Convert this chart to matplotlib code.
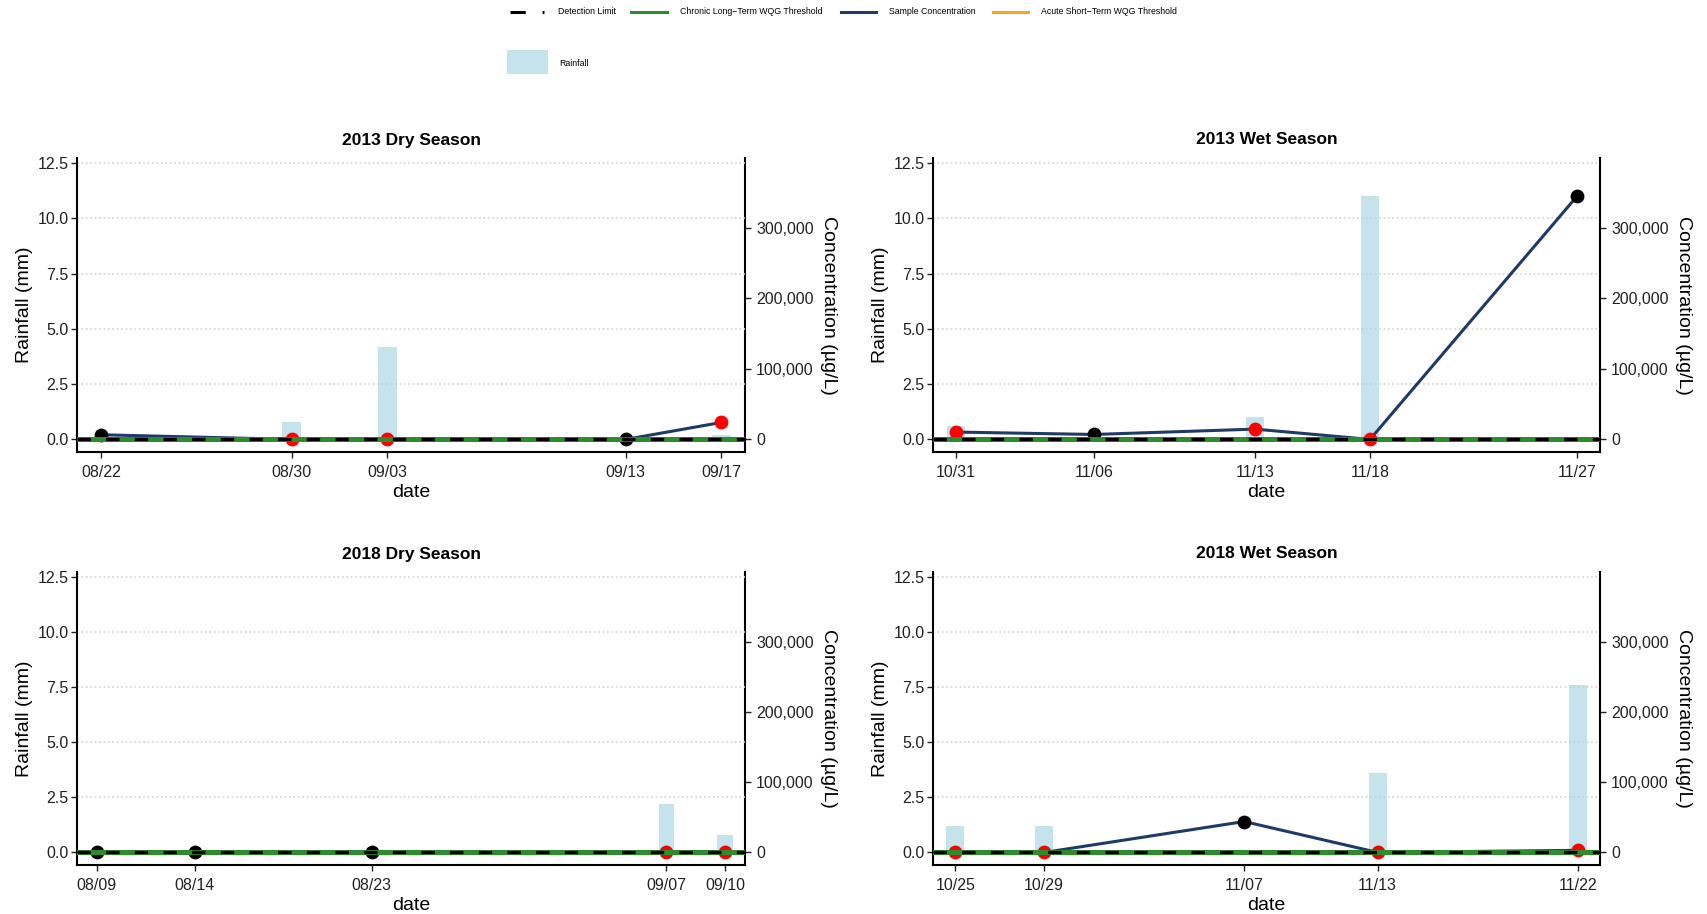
import numpy as np
import pandas as pd
import matplotlib.pyplot as plt
import matplotlib.dates as mdates
import matplotlib.ticker as mticker
from matplotlib.lines import Line2D
from matplotlib.patches import Rectangle

plt.rcParams['font.family'] = ['Liberation Sans', 'DejaVu Sans']

# sampling dates, rainfall (mm) and concentration (ug/L) per season
titles = ['2013 Dry Season', '2013 Wet Season', '2018 Dry Season', '2018 Wet Season']

dry13_dates = ['2013-08-22', '2013-08-30', '2013-09-03', '2013-09-13', '2013-09-17']
dry13_rain = [0.0, 0.8, 4.2, 0.0, 0.2]
dry13_conc = [6600, 0, 0, 0, 24000]
dry13_flag = [False, True, True, False, True]

wet13_dates = ['2013-10-31', '2013-11-06', '2013-11-13', '2013-11-18', '2013-11-27']
wet13_rain = [0.6, 0.0, 1.0, 11.0, 0.0]
wet13_conc = [10400, 7000, 14600, 0, 345000]
wet13_flag = [True, False, True, True, False]

dry18_dates = ['2018-08-09', '2018-08-14', '2018-08-23', '2018-09-07', '2018-09-10']
dry18_rain = [0.0, 0.0, 0.0, 2.2, 0.8]
dry18_conc = [0, 0, 0, 0, 0]
dry18_flag = [False, False, False, True, True]

wet18_dates = ['2018-10-25', '2018-10-29', '2018-11-07', '2018-11-13', '2018-11-22']
wet18_rain = [1.2, 1.2, 0.0, 3.6, 7.6]
wet18_conc = [0, 0, 44000, 0, 3000]
wet18_flag = [True, True, False, True, True]

detection_limit = 50
chronic_threshold = 120
acute_threshold = 120

seasons = [
    (dry13_dates, dry13_rain, dry13_conc, dry13_flag),
    (wet13_dates, wet13_rain, wet13_conc, wet13_flag),
    (dry18_dates, dry18_rain, dry18_conc, dry18_flag),
    (wet18_dates, wet18_rain, wet18_conc, wet18_flag),
]

# concentration drawn on the rainfall scale
rain_max = max(max(s[1]) for s in seasons)
conc_max = max(max(s[2]) for s in seasons)
k = conc_max / rain_max

rain_col = 'lightblue'
conc_col = '#1f3a66'
green = '#2e8b2e'
orange = '#f5a623'

W, H = 1707, 914
fig = plt.figure(figsize=(W / 100, H / 100), dpi=100)

def box(l, t, r, b):
    return [l / W, 1 - b / H, (r - l) / W, (b - t) / H]

boxes = [box(77, 158, 745, 452), box(933, 158, 1600, 452),
         box(77, 572, 745, 865), box(933, 572, 1600, 865)]

for (dates, rain, conc, flag), title, bx in zip(seasons, titles, boxes):
    ax = fig.add_axes(bx)
    d = pd.to_datetime(dates)
    conc = np.array(conc) / k
    flag = np.array(flag)

    ax.bar(d, rain, width=0.8, color=rain_col, alpha=0.7, zorder=1)
    ax.plot(d, conc, color=conc_col, lw=2.2, zorder=2)
    ax.scatter(d[flag], conc[flag], s=80, color='red', zorder=3)
    ax.scatter(d[~flag], conc[~flag], s=80, color='black', zorder=3)
    ax.axhline(acute_threshold / k, color=orange, lw=2.5, zorder=3.5)
    ax.axhline(chronic_threshold / k, color=green, lw=3.6, zorder=4)
    ax.axhline(detection_limit / k, color='black', lw=2.4, ls=(0, (4.0, 4.6)), zorder=5)

    ax.set_ylim(-0.57, 12.73)
    ax.set_yticks([0, 2.5, 5, 7.5, 10, 12.5])
    ax.yaxis.set_major_formatter(mticker.FormatStrFormatter('%.1f'))
    ax.set_xlim(d[0] - pd.Timedelta(days=1), d[-1] + pd.Timedelta(days=1))
    ax.set_xticks(d)
    ax.xaxis.set_major_formatter(mdates.DateFormatter('%m/%d'))
    ax.yaxis.grid(True, ls=':', color='#d4d4d4', lw=1.2)
    ax.set_axisbelow(True)

    for s in ['top', 'right']:
        ax.spines[s].set_visible(False)
    for s in ['left', 'bottom']:
        ax.spines[s].set_linewidth(1.5)
    ax.tick_params(labelsize=11.5, length=4, width=1, pad=2, colors='#222222')
    ax.tick_params(axis='x', pad=5)
    ax.set_ylabel('Rainfall (mm)', fontsize=14, labelpad=3)
    ax.set_xlabel('date', fontsize=14, labelpad=3)

    sec = ax.secondary_yaxis('right', functions=(lambda r: r * k, lambda c: c / k))
    sec.set_yticks([0, 100000, 200000, 300000])
    sec.yaxis.set_major_formatter(mticker.StrMethodFormatter('{x:,.0f}'))
    sec.spines['right'].set_linewidth(1.5)
    sec.tick_params(labelsize=11.5, length=4, width=1, pad=4, colors='#222222')
    sec.set_ylabel('Concentration (\u00b5g/L)', fontsize=14, rotation=270, labelpad=17)

    fig.text(bx[0] + bx[2] / 2, bx[1] + bx[3] + 18 / H, title,
             fontsize=12.5, fontweight='bold', ha='center', va='center')

# legend across the top
def fx(x):
    return x / W

def fy(y):
    return 1 - y / H

keys = [
    (510, 544, dict(color='black', ls=(0, (5, 5.5))), 'Detection Limit', 558),
    (631, 667, dict(color=green), 'Chronic Long\u2212Term WQG Threshold', 680),
    (841, 876, dict(color=conc_col), 'Sample Concentration', 889),
    (993, 1028, dict(color=orange), 'Acute Short\u2212Term WQG Threshold', 1041),
]
for x0, x1, style, label, tx in keys:
    fig.add_artist(Line2D([fx(x0), fx(x1)], [fy(12), fy(12)],
                          transform=fig.transFigure, lw=2.2, **style))
    fig.text(fx(tx), fy(12), label, fontsize=6.3, va='center', ha='left')

fig.add_artist(Rectangle((fx(507), fy(74)), 41 / W, 24 / H, transform=fig.transFigure,
                         color=rain_col, alpha=0.7, lw=0))
fig.text(fx(559), fy(63), 'Rainfall', fontsize=6.3, va='center', ha='left')

fig.savefig('out.png', dpi=100)
